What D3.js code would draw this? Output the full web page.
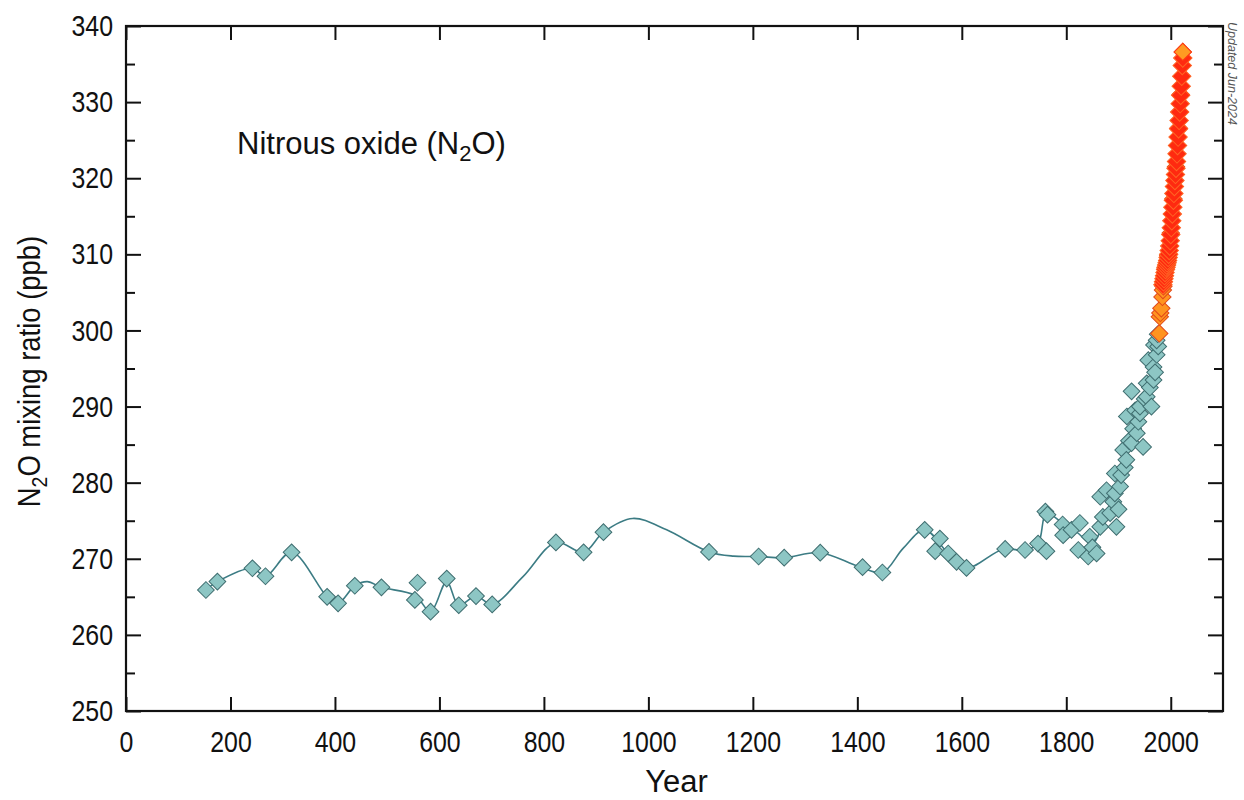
<!DOCTYPE html>
<html>
<head>
<meta charset="utf-8">
<script src="https://cdn.jsdelivr.net/npm/d3@7"></script>
<style>
  body { margin: 0; background: #fff; }
  svg { display: block; }
  text { font-family: "Liberation Sans", Arial, sans-serif; fill: #111; }
  .tick text { font-size: 30px; }
  .tick line { stroke: #111; stroke-width: 2; }
</style>
</head>
<body>
<svg id="chart" width="1244" height="800"></svg>
<script>
// ice core / firn record (teal diamonds)
const iceYears = [153, 175, 242, 267, 317, 385, 406, 438, 489, 553, 558, 583, 614, 637, 670, 701,
  823, 876, 914, 1116, 1211, 1260, 1329, 1410, 1448, 1529, 1549, 1558, 1574, 1590, 1609,
  1683, 1721, 1746, 1760, 1764, 1762, 1793, 1794, 1810, 1823, 1826, 1842, 1845, 1850, 1858,
  1865, 1865, 1870, 1877, 1884, 1890, 1893, 1893, 1896, 1900, 1903, 1905, 1909, 1912, 1915,
  1916, 1920, 1925, 1925, 1928, 1932, 1935, 1938, 1941, 1941, 1947, 1950, 1954, 1954, 1957,
  1960, 1963, 1967, 1967, 1968, 1970, 1973, 1976, 1973, 1975];
const iceN2O = [265.9, 267.0, 268.75, 267.7, 270.85, 265.0, 264.15, 266.45, 266.25, 264.6, 266.85, 263.05, 267.4, 263.9, 265.1, 264.0,
  272.15, 270.85, 273.5, 270.9, 270.3, 270.15, 270.8, 268.9, 268.2, 273.8, 271.0, 272.65, 270.7, 269.6, 268.8,
  271.3, 271.15, 272.0, 276.2, 275.8, 271.0, 274.5, 273.1, 273.8, 271.15, 274.7, 270.3, 272.9, 271.5, 270.7,
  274.2, 278.15, 275.5, 279.0, 276.0, 277.5, 281.2, 278.6, 274.2, 276.5, 279.5, 281.0, 284.3, 282.0, 283.0,
  288.7, 285.5, 285.2, 292.0, 287.1, 289.5, 286.5, 288.0, 289.1, 290.0, 284.7, 291.0, 291.3, 293.05, 296.1,
  292.5, 290.0, 293.5, 295.2, 298.1, 294.5, 296.8, 297.9, 298.7, 299.5];

// smoothed fit through the ice record
const fitYears = [153, 175, 242, 267, 317, 385, 406, 438, 462, 489, 553, 583, 614, 637, 670, 701,
  760, 823, 876, 914, 970, 1035, 1116, 1163, 1211, 1260, 1329, 1402, 1448, 1488, 1529, 1574,
  1609, 1679, 1721, 1746, 1762, 1793, 1820, 1850, 1870, 1890, 1910, 1930, 1950, 1965, 1978];
const fitN2O = [265.9, 267.0, 268.75, 267.7, 270.85, 265.0, 264.15, 266.45, 267.0, 266.25, 265.2, 263.05, 267.0, 263.9, 265.1, 264.0,
  267.65, 272.15, 270.85, 273.5, 275.3, 273.8, 270.9, 270.35, 270.3, 270.15, 270.8, 269.0, 268.2, 271.4, 273.8, 270.7,
  268.8, 271.25, 271.15, 272.0, 276.0, 274.65, 273.5, 272.0, 274.5, 277.5, 282.0, 287.0, 291.5, 295.0, 299.5];

// archive air / in situ record (orange diamonds)
const archiveYears = [1978, 1979, 1980, 1982, 1984, 1985, 1986, 1990, 1995, 2000, 2005, 2010, 2015, 2019, 2023];
const archiveN2O = [299.6, 301.8, 302.3, 302.9, 304.4, 305.3, 305.8, 308.2, 309.8, 312.8, 317.3, 321.5, 326.6, 331.0, 336.6];

// global network annual means (red diamonds)
const networkYears = d3.range(1985, 2024);
const networkN2O = [306.0, 306.4, 306.8, 307.2, 307.6, 308.0, 308.3, 308.6, 308.9, 309.2, 309.6, 310.0,
  310.5, 311.1, 311.8, 312.6, 313.5, 314.4, 315.3, 316.2, 317.1, 318.0, 318.9, 319.7, 320.5, 321.3,
  322.2, 323.2, 324.3, 325.4, 326.5, 327.6, 328.7, 329.8, 330.9, 332.1, 333.4, 334.8, 335.8];

const xTicks = d3.range(0, 2001, 200);
const yTicks = d3.range(250, 341, 10);
const yMinor = d3.range(255, 340, 10);

const svg = d3.select('#chart');
const plotLeft = 126, plotRight = 1223, plotTop = 26, plotBottom = 711;
const squeeze = 0.83; // tick labels are set in a narrow face

const x = d3.scaleLinear().domain([0, 2100]).range([plotLeft, plotRight]);
const y = d3.scaleLinear().domain([250, 340]).range([plotBottom, plotTop]);

// axes
const xAxis = svg.append('g')
  .attr('transform', `translate(0,${plotBottom})`)
  .call(d3.axisBottom(x).tickValues(xTicks).tickFormat(d3.format('d'))
    .tickSizeInner(-14).tickSizeOuter(0).tickPadding(20));
xAxis.selectAll('.tick text').attr('transform', `scale(${squeeze},1)`);

svg.append('g')
  .attr('transform', `translate(0,${plotTop})`)
  .call(d3.axisTop(x).tickValues(xTicks).tickSizeInner(-14).tickSizeOuter(0).tickFormat(''));

const yAxis = svg.append('g')
  .attr('transform', `translate(${plotLeft},0)`)
  .call(d3.axisLeft(y).tickValues(yTicks).tickSizeInner(-15).tickSizeOuter(0).tickPadding(13));
yAxis.selectAll('.tick text')
  .attr('x', -13 / squeeze)
  .attr('transform', `scale(${squeeze},1)`);

svg.append('g')
  .attr('transform', `translate(${plotLeft},0)`)
  .call(d3.axisLeft(y).tickValues(yMinor).tickSizeInner(-9).tickSizeOuter(0).tickFormat(''));
svg.append('g')
  .attr('transform', `translate(${plotRight},0)`)
  .call(d3.axisRight(y).tickValues(yTicks).tickSizeInner(-15).tickSizeOuter(0).tickFormat(''));
svg.append('g')
  .attr('transform', `translate(${plotRight},0)`)
  .call(d3.axisRight(y).tickValues(yMinor).tickSizeInner(-9).tickSizeOuter(0).tickFormat(''));
svg.selectAll('.domain').remove();

svg.append('rect')
  .attr('x', plotLeft).attr('y', plotTop)
  .attr('width', plotRight - plotLeft).attr('height', plotBottom - plotTop)
  .attr('fill', 'none').attr('stroke', '#111').attr('stroke-width', 2.2);

// fitted line
const line = d3.line()
  .x((d, i) => x(fitYears[i]))
  .y(d => y(d))
  .curve(d3.curveCatmullRom.alpha(0.5));
svg.append('path')
  .attr('d', line(fitN2O))
  .attr('fill', 'none')
  .attr('stroke', '#3c7c84')
  .attr('stroke-width', 1.6);

function drawDiamonds(years, values, size, fill, stroke) {
  const diamond = d3.symbol().type(d3.symbolSquare).size(size);
  svg.append('g')
    .selectAll('path')
    .data(values)
    .join('path')
    .attr('d', diamond)
    .attr('transform', (d, i) => `translate(${x(years[i])},${y(d)}) rotate(45)`)
    .attr('fill', fill)
    .attr('stroke', stroke)
    .attr('stroke-width', 1);
}

drawDiamonds(iceYears, iceN2O, 140, '#8dc6c4', '#3f6e70');
drawDiamonds(archiveYears, archiveN2O, 150, '#ff9420', '#e2481a');
drawDiamonds(networkYears, networkN2O, 170, '#ff2a10', '#ff6424');

// top marker of the archive record sits above the network series
drawDiamonds(archiveYears.slice(-1), archiveN2O.slice(-1), 150, '#ff9a22', '#ff3a14');

// labels
svg.append('text')
  .attr('x', 237).attr('y', 154)
  .attr('font-size', 31)
  .html('Nitrous oxide (N<tspan dy="7" font-size="22">2</tspan><tspan dy="-7">O)</tspan>');

svg.append('text')
  .attr('transform', `translate(40,${(plotTop + plotBottom) / 2 + 3}) rotate(-90) scale(0.885,1)`)
  .attr('text-anchor', 'middle')
  .attr('font-size', 31)
  .html('N<tspan dy="7" font-size="22">2</tspan><tspan dy="-7">O mixing ratio (ppb)</tspan>');

svg.append('text')
  .attr('x', (plotLeft + plotRight) / 2 + 2).attr('y', 792)
  .attr('text-anchor', 'middle')
  .attr('font-size', 31)
  .text('Year');

svg.append('text')
  .attr('transform', 'translate(1228,22) rotate(90)')
  .attr('font-size', 12.5)
  .attr('font-style', 'italic')
  .style('fill', '#555')
  .text('Updated  Jun-2024');
</script>
</body>
</html>
